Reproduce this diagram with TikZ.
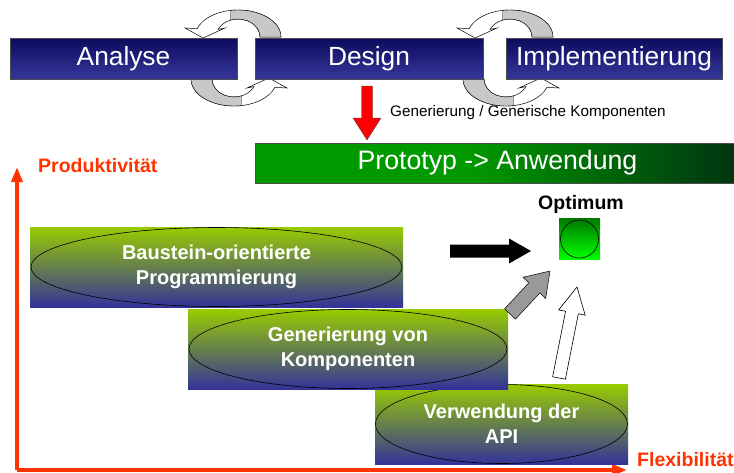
\documentclass[tikz,border=0pt]{standalone}
\usepackage{fontspec}
\setmainfont{Liberation Sans}
\usetikzlibrary{shapes.geometric,arrows.meta,calc}

\definecolor{barTop}{HTML}{0C0C5E}
\definecolor{barBot}{HTML}{36369A}
\definecolor{boxTop}{HTML}{99CC00}
\definecolor{boxBot}{HTML}{333399}
\definecolor{protoL}{HTML}{009900}
\definecolor{protoR}{HTML}{003311}
\definecolor{axisRed}{HTML}{FF3300}
\definecolor{optTop}{HTML}{007A00}
\definecolor{optBot}{HTML}{00FF00}
\definecolor{cycGrey}{HTML}{C8C8C8}
\definecolor{arrGrey}{HTML}{999999}

\pgfdeclarehorizontalshading{protoshade}{100bp}{color(0bp)=(protoL); color(25bp)=(protoL); color(47bp)=(protoL); color(75bp)=(protoR); color(100bp)=(protoR)}

% block arrow: [style]{from}{to}{half body}{half head}{head length}
\newcommand{\blockarrow}[6][]{%
  \path[#1] let \p1=(#2), \p2=(#3),
    \n1={atan2(\y2-\y1,\x2-\x1)}, \n2={veclen(\x2-\x1,\y2-\y1)} in
    {[shift={(\p1)},rotate=\n1]
     (0pt,-#4pt) -- (\n2-#6pt,-#4pt) -- (\n2-#6pt,-#5pt) -- (\n2,0pt)
     -- (\n2-#6pt,#5pt) -- (\n2-#6pt,#4pt) -- (0pt,#4pt) -- cycle};}

\tikzset{
  cycwhite/.style={fill=white,draw=black,line width=0.5pt},
  cycgrey/.style={fill=cycGrey,draw=black,line width=0.4pt},
  cycarrow/.pic={
    \path[cycwhite] (43,0) arc[start angle=0,end angle=-162,x radius=43,y radius=27]
      -- (-53,-9) -- (-35,1) -- (-13,-9) -- (-19.9,-7.6)
      arc[start angle=-155,end angle=0,x radius=22,y radius=18] -- cycle;
    \path[cycgrey] (43,0) arc[start angle=0,end angle=-100,x radius=43,y radius=27]
      -- (-7.5,-16.9) arc[start angle=-110,end angle=0,x radius=22,y radius=18] -- cycle;
  }
}

\begin{document}
\begin{tikzpicture}[x=1pt,y=-1pt,
  bar/.style={draw=black!70,top color=barTop,bottom color=barBot,text=white,
    minimum height=41pt,inner sep=0pt,font=\fontsize{26.3}{30}\selectfont},
  box/.style={top color=boxTop,bottom color=boxBot,minimum height=80pt,inner sep=0pt},
  ell/.style={ellipse,draw=black,line width=0.6pt,minimum height=79pt,inner sep=0pt,
    text=white,align=center,font=\bfseries\fontsize{20}{25}\selectfont},
  axislabel/.style={text=axisRed,font=\bfseries\fontsize{19.5}{22}\selectfont,inner sep=0pt},
  axisline/.style={draw=axisRed,line width=4pt,-{Triangle[width=11pt,length=15pt]}}]
\useasboundingbox (0,0) rectangle (734,472);

% cycle arrows behind the bars
\pic at (238,37) {cycarrow};
\pic[rotate=180] at (234,79) {cycarrow};
\pic at (510,37) {cycarrow};
\pic[rotate=180] at (506,79) {cycarrow};

\foreach \n/\t/\l/\r in {analyse/Analyse/10/237,design/Design/255/483,impl/Implementierung/506/722}
  \node[bar,minimum width=\r-\l] (\n) at ({(\l+\r)/2},58.5) {\t};

\node[draw=black!70,shading=protoshade,minimum width=485pt,minimum height=40pt,inner sep=0pt,
  text=white,font=\fontsize{26.7}{30}\selectfont] (proto) at (497.5,163) {Prototyp -> Anwendung};

\coordinate (redA) at (367,86);
\coordinate (redB) at (367,140);
\blockarrow[fill=red,draw=black!70,line width=0.4pt]{redA}{redB}{5.5}{14}{22}
\node[anchor=west,inner sep=0pt,font=\fontsize{15.3}{18}\selectfont] (gen) at (390,113)
  {Generierung / Generische Komponenten};

% axes
\coordinate (origin) at (17,470);
\coordinate (ytop) at (17,167);
\coordinate (xend) at (627,470);
\draw[axisline] (origin) -- (ytop);
\draw[axisline] (origin) -- (xend);
\node[axislabel,anchor=west] (prod) at (38,166) {Produktivität};
\node[axislabel,anchor=west] (flex) at (637,460) {Flexibilität};

% building blocks
\node[box,minimum width=253pt] (api) at (501.5,424) {};
\node[ell,minimum width=252pt] (apiell) at (api) {Verwendung der\\API};
\node[box,minimum width=320pt] (genk) at (348,349) {};
\node[ell,minimum width=318pt] (genkell) at (genk) {Generierung von\\Komponenten};
\node[box,minimum width=373pt] (bst) at (216.5,267) {};
\node[ell,minimum width=371pt] (bstell) at (bst) {Baustein-orientierte\\Programmierung};

% optimum
\node[top color=optTop,bottom color=optBot,minimum size=41pt,inner sep=0pt] (opt) at (579.5,239) {};
\node[circle,draw=black,line width=0.6pt,top color=optTop,bottom color=optBot,
  minimum size=38pt,inner sep=0pt] (optc) at (opt) {};
\node[font=\bfseries\fontsize{19.5}{22}\selectfont,inner sep=0pt] (optlabel) at (581,204) {Optimum};

\coordinate (blkA) at (450,251);
\coordinate (blkB) at (531,251);
\coordinate (greyA) at (510,314);
\coordinate (greyB) at (550,271);
\coordinate (whiteA) at (559,378);
\coordinate (whiteB) at (577,287);
\blockarrow[fill=black]{blkA}{blkB}{6.5}{12.5}{22}
\blockarrow[fill=arrGrey,draw=black,line width=0.5pt]{greyA}{greyB}{7.5}{15.5}{23}
\blockarrow[fill=white,draw=black,line width=0.6pt]{whiteA}{whiteB}{6.5}{13.5}{26}
\end{tikzpicture}
\end{document}
